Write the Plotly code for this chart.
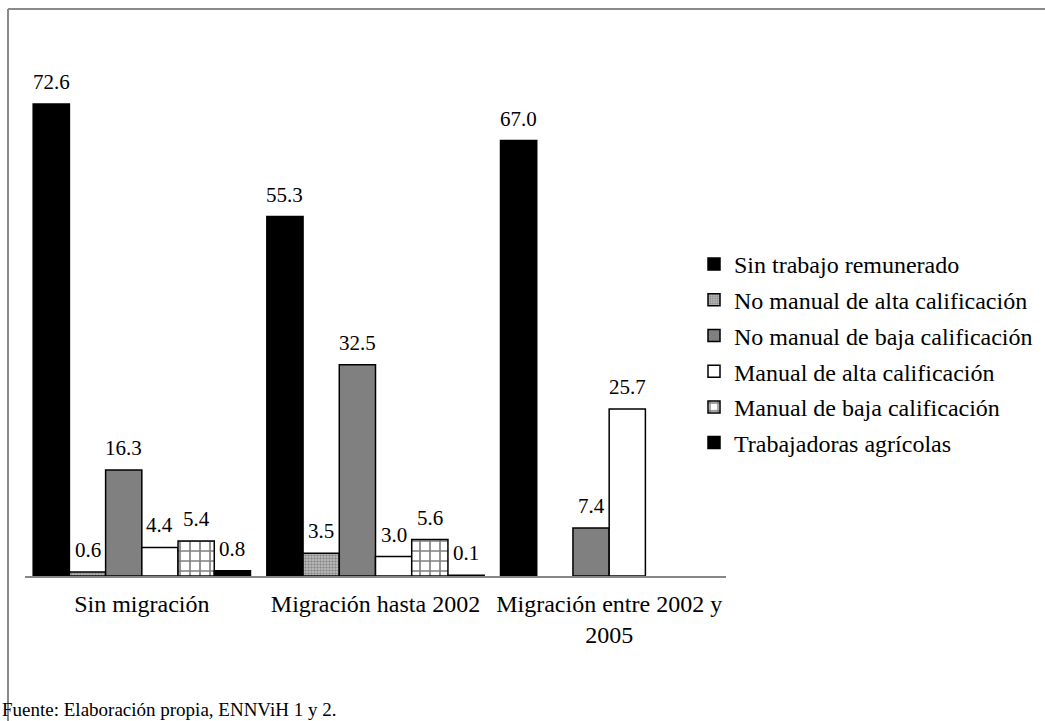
import plotly.graph_objects as go

categories = ["Sin migración", "Migración hasta 2002", "Migración entre 2002 y<br>2005"]
series_names = [
    "Sin trabajo remunerado",
    "No manual de alta calificación",
    "No manual de baja calificación",
    "Manual de alta calificación",
    "Manual de baja calificación",
    "Trabajadoras agrícolas",
]
sin_trabajo = [72.6, 55.3, 67.0]
no_manual_alta = [0.6, 3.5, None]
no_manual_baja = [16.3, 32.5, 7.4]
manual_alta = [4.4, 3.0, 25.7]
manual_baja = [5.4, 5.6, None]
agricolas = [0.8, 0.1, None]
series_values = [sin_trabajo, no_manual_alta, no_manual_baja, manual_alta, manual_baja, agricolas]

FONT = "Liberation Serif"
W, H = 1045, 721
ML, MR, MT, MB = 25, 319, 56, 145
BARGAP = 0.07

styles = [
    dict(color="black"),
    dict(color="#b0b0b0", pattern=dict(shape=".", fgcolor="#505050", bgcolor="#c4c4c4", size=3, solidity=0.5)),
    dict(color="#808080"),
    dict(color="white"),
    dict(color="white", pattern=dict(shape="+", fgcolor="black", bgcolor="white", size=10, solidity=0.3)),
    dict(color="black"),
]

xs = list(range(len(categories)))
fig = go.Figure()
for j, (name, vals, st) in enumerate(zip(series_names, series_values, styles)):
    fig.add_trace(go.Bar(
        x=xs, y=vals, name=name, legendgroup=name,
        marker=dict(line=dict(color="black", width=1.5), **st),
        hoverinfo="skip",
    ))

nser = len(series_names)
bw = (1 - BARGAP) / nser
annotations = []
for j, vals in enumerate(series_values):
    for i, v in enumerate(vals):
        if v is None:
            continue
        annotations.append(dict(
            x=i - (1 - BARGAP) / 2 + bw * (j + 0.5), y=v, xref="x", yref="y",
            text=f"{v:.1f}", showarrow=False, yanchor="bottom", yshift=8,
            font=dict(family=FONT, size=21, color="black"),
        ))

plot_w = W - ML - MR
plot_h = H - MT - MB
annotations.append(dict(
    x=(0 - ML) / plot_w, y=(H - MB - 709) / plot_h, xref="paper", yref="paper",
    xanchor="left", yanchor="middle", showarrow=False,
    text="Fuente: Elaboración propia, ENNViH 1 y 2.",
    font=dict(family=FONT, size=19, color="black"),
))

frame_x = (8 - ML) / plot_w
frame_top = (H - MB - 9) / plot_h
frame_bottom = (H - MB - H - 5) / plot_h
shapes = [
    dict(type="line", xref="paper", yref="paper", x0=frame_x, x1=(W + 5 - ML) / plot_w,
         y0=frame_top, y1=frame_top, line=dict(color="#8a8a8a", width=2)),
    dict(type="line", xref="paper", yref="paper", x0=frame_x, x1=frame_x,
         y0=frame_top, y1=frame_bottom, line=dict(color="#8a8a8a", width=2)),
]

fig.update_layout(
    width=W, height=H,
    margin=dict(l=ML, r=MR, t=MT, b=MB, pad=0, autoexpand=False),
    paper_bgcolor="white", plot_bgcolor="white",
    barmode="group", bargap=BARGAP, bargroupgap=0,
    font=dict(family=FONT, color="black"),
    xaxis=dict(
        range=[-0.5, 2.5], tickvals=xs, ticktext=categories, showgrid=False, zeroline=False,
        showline=True, linecolor="#868686", linewidth=1.5, ticks="", automargin=False,
        tickfont=dict(family=FONT, size=24, color="black"), ticklabelstandoff=5,
    ),
    yaxis=dict(range=[0, 80], visible=False, showgrid=False, zeroline=False),
    legend=dict(
        xref="container", yref="container",
        x=694 / W, y=1 - 242 / H, xanchor="left", yanchor="top",
        font=dict(family=FONT, size=24, color="black"), tracegroupgap=1.5,
        bgcolor="rgba(0,0,0,0)", traceorder="grouped",
    ),
    annotations=annotations, shapes=shapes, showlegend=True,
)

fig.write_html("out.html")
